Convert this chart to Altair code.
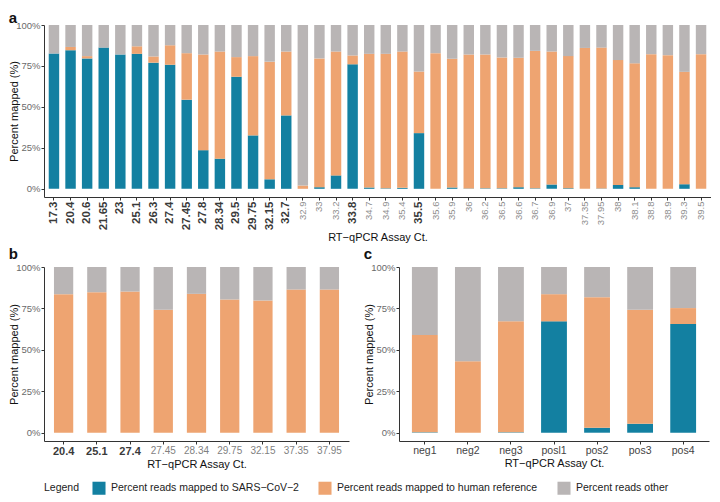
import json
import altair as alt
import pandas as pd

S1 = "Percent reads mapped to SARS−CoV−2"
S2 = "Percent reads mapped to human reference"
S3 = "Percent reads other"
SERIES = [S1, S2, S3]
COLORS = ["#1380a1", "#eea471", "#b9b5b5"]

# Panel a
a_ct = ["17.3", "20.4", "20.6", "21.65", "23", "25.1", "26.3", "27.4", "27.45", "27.8",
        "28.34", "29.5", "29.75", "32.15", "32.7", "32.9", "33", "33.2", "33.8", "34.7",
        "34.9", "35.4", "35.5", "35.6", "35.9", "36", "36.2", "36.5", "36.6", "36.7",
        "36.9", "37", "37.35", "37.95", "38", "38.1", "38.8", "38.9", "39.3", "39.5"]
a_sars = [82.6, 84.6, 79.6, 86.2, 82.0, 82.4, 77.0, 75.8, 54.4, 23.6,
          18.4, 68.4, 32.6, 5.8, 44.8, 0.0, 1.0, 8.2, 76.0, 0.8,
          0.3, 0.6, 34.0, 0.0, 0.8, 0.2, 0.3, 0.3, 1.0, 0.3,
          2.6, 0.4, 0.0, 0.2, 2.4, 1.0, 0.0, 0.0, 2.8, 0.0]
a_human = [0.0, 2.0, 1.4, 0.0, 0.0, 4.6, 3.8, 11.8, 28.4, 58.4,
           65.4, 12.0, 48.4, 71.8, 39.0, 2.0, 78.6, 75.6, 5.4, 81.6,
           82.1, 83.2, 37.6, 82.8, 78.6, 81.8, 81.7, 79.9, 79.0, 83.9,
           81.2, 80.6, 86.0, 86.0, 76.2, 75.6, 82.2, 81.6, 68.6, 82.2]
a_bold = ["17.3", "20.4", "20.6", "21.65", "23", "25.1", "26.3", "27.4", "27.45", "27.8",
          "28.34", "29.5", "29.75", "32.15", "32.7", "33.8", "35.5"]

# Panel b
b_ct = ["20.4", "25.1", "27.4", "27.45", "28.34", "29.75", "32.15", "37.35", "37.95"]
b_sars = [0.0, 0.0, 0.0, 0.0, 0.0, 0.0, 0.0, 0.0, 0.0]
b_human = [83.6, 84.8, 85.2, 74.2, 83.8, 80.4, 79.8, 86.4, 86.4]
b_bold = ["20.4", "25.1", "27.4"]

# Panel c
c_ct = ["neg1", "neg2", "neg3", "posl1", "pos2", "pos3", "pos4"]
c_sars = [0.3, 0.0, 0.3, 67.2, 3.0, 5.4, 65.6]
c_human = [58.7, 43.2, 66.9, 16.4, 78.8, 68.8, 9.6]
c_bold = []

FONT = "Liberation Sans"


def panel(cats, sars, human, bold, w, h, letter, p_in, p_out, angle, regular_color,
          title_offset, bold_size, regular_size):
    rows = []
    for i, c in enumerate(cats):
        other = round(100 - sars[i] - human[i], 2)
        for k, (s, v) in enumerate(zip(SERIES, [sars[i], human[i], other])):
            rows.append({"ct": c, "series": s, "value": v, "ord": k})
    df = pd.DataFrame(rows)
    test = "indexof(" + json.dumps(bold) + ", datum.label) >= 0"
    x_axis = alt.Axis(
        title="RT−qPCR Assay Ct.",
        labelAngle=angle,
        labelFontSize=alt.expr(f"{test} ? {bold_size} : {regular_size}"),
        labelFontWeight=alt.expr(f"{test} ? 'bold' : 'normal'"),
        labelColor=alt.expr(f"{test} ? '#3a3a3a' : '{regular_color}'"),
        labelPadding=1,
        titleFontSize=11,
        titleFontWeight="normal",
        titleColor="#111111",
        titlePadding=2,
        tickSize=3,
        minExtent=0,
    )
    y_axis = alt.Axis(
        title="Percent mapped (%)",
        values=[0, 25, 50, 75, 100],
        labelExpr="datum.value + '%'",
        labelFontSize=9.5,
        labelColor="#6a6a6a",
        labelPadding=1,
        titleFontSize=11,
        titleFontWeight="normal",
        titleColor="#111111",
        titlePadding=-4,
        tickSize=3,
        minExtent=0,
    )
    return alt.Chart(df).mark_bar().encode(
        x=alt.X("ct:N", sort=cats, axis=x_axis,
                scale=alt.Scale(paddingInner=p_in, paddingOuter=p_out)),
        y=alt.Y("value:Q", stack="zero", axis=y_axis,
                scale=alt.Scale(domain=[-5, 100], nice=False, zero=False)),
        color=alt.Color("series:N", sort=SERIES,
                        scale=alt.Scale(domain=SERIES, range=COLORS),
                        legend=alt.Legend(
                            title="Legend", orient="bottom", direction="horizontal",
                            titleOrient="left", titleFontWeight="normal",
                            titleFontSize=10.5, titleColor="#222222", titlePadding=12,
                            labelFontSize=10.5, labelColor="#222222", labelOffset=5,
                            labelLimit=0,
                            symbolType="square", symbolSize=170, symbolStrokeWidth=0,
                            columnPadding=19, offset=12)),
        order=alt.Order("ord:Q", sort="ascending"),
    ).properties(
        width=w, height=h,
        title=alt.TitleParams(letter, anchor="start", frame="bounds", fontSize=15,
                              fontWeight="bold", font=FONT, offset=title_offset,
                              color="#111111"),
    )


pa = panel(a_ct, a_sars, a_human, a_bold, 667, 172, "a", 0.37, 0.285, 270, "#8f8f8f", -6, 11.5, 9.5)
pb = panel(b_ct, b_sars, b_human, b_bold, 305, 174, "b", 0.42, 0.3, 0, "#7f7f7f", 0, 11, 10)
pc = panel(c_ct, c_sars, c_human, c_bold, 310, 174, "c", 0.4, 0.3, 0, "#444444", 0, 10.5, 10.5)

chart = alt.vconcat(
    pa,
    alt.hconcat(pb, pc, spacing=14),
    spacing=4,
).properties(
    padding={"left": 0, "top": 3, "right": 0, "bottom": 0},
).configure(
    font=FONT,
).configure_view(
    stroke=None,
).configure_axis(
    grid=False,
    domainColor="#333333",
    tickColor="#333333",
    labelFont=FONT,
    titleFont=FONT,
).configure_legend(
    labelFont=FONT,
    titleFont=FONT,
)

chart.save("out.html", embed_options={"renderer": "svg", "actions": False})
